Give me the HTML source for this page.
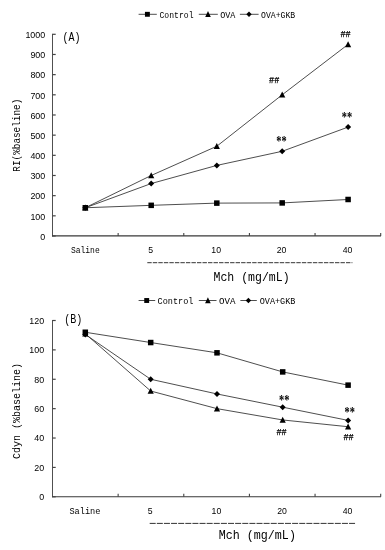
<!DOCTYPE html><html><head><meta charset="utf-8"><title>Figure</title><style>html,body{margin:0;padding:0;background:#fff}svg{display:block}text{fill:#000}</style></head><body>
<svg width="385" height="550" viewBox="0 0 385 550">
<rect width="385" height="550" fill="#fff"/>
<line x1="138.6" y1="14.3" x2="156.8" y2="14.3" stroke="#2e2e2e" stroke-width="0.85"/>
<rect x="144.95" y="11.85" width="4.9" height="4.9" fill="#000"/>
<text x="159.50" y="17.50" font-family='"Liberation Mono", "DejaVu Sans Mono", monospace' font-size="9" textLength="34.00" lengthAdjust="spacingAndGlyphs" >Control</text>
<line x1="198.8" y1="14.3" x2="217.8" y2="14.3" stroke="#2e2e2e" stroke-width="0.85"/>
<polygon points="208.00,11.10 210.80,17.10 205.20,17.10" fill="#000"/>
<text x="220.20" y="17.50" font-family='"Liberation Mono", "DejaVu Sans Mono", monospace' font-size="9" textLength="15.20" lengthAdjust="spacingAndGlyphs" >OVA</text>
<line x1="239.9" y1="14.3" x2="258.6" y2="14.3" stroke="#2e2e2e" stroke-width="0.85"/>
<polygon points="249.00,11.60 251.70,14.30 249.00,17.00 246.30,14.30" fill="#000"/>
<text x="261.00" y="17.50" font-family='"Liberation Mono", "DejaVu Sans Mono", monospace' font-size="9" textLength="34.20" lengthAdjust="spacingAndGlyphs" >OVA+GKB</text>
<line x1="52.5" y1="33.8" x2="52.5" y2="236.5" stroke="#505050" stroke-width="1"/>
<line x1="52.0" y1="235.9" x2="381.0" y2="235.9" stroke="#383838" stroke-width="1.15"/>
<line x1="52.5" y1="236.00" x2="55.7" y2="236.00" stroke="#444" stroke-width="1.2"/>
<text x="45.20" y="239.80" font-family='"Liberation Sans", "DejaVu Sans", sans-serif' font-size="8.9" text-anchor="end">0</text>
<line x1="52.5" y1="215.83" x2="55.7" y2="215.83" stroke="#444" stroke-width="1.2"/>
<text x="45.20" y="219.63" font-family='"Liberation Sans", "DejaVu Sans", sans-serif' font-size="8.9" text-anchor="end">100</text>
<line x1="52.5" y1="195.66" x2="55.7" y2="195.66" stroke="#444" stroke-width="1.2"/>
<text x="45.20" y="199.46" font-family='"Liberation Sans", "DejaVu Sans", sans-serif' font-size="8.9" text-anchor="end">200</text>
<line x1="52.5" y1="175.49" x2="55.7" y2="175.49" stroke="#444" stroke-width="1.2"/>
<text x="45.20" y="179.29" font-family='"Liberation Sans", "DejaVu Sans", sans-serif' font-size="8.9" text-anchor="end">300</text>
<line x1="52.5" y1="155.32" x2="55.7" y2="155.32" stroke="#444" stroke-width="1.2"/>
<text x="45.20" y="159.12" font-family='"Liberation Sans", "DejaVu Sans", sans-serif' font-size="8.9" text-anchor="end">400</text>
<line x1="52.5" y1="135.15" x2="55.7" y2="135.15" stroke="#444" stroke-width="1.2"/>
<text x="45.20" y="138.95" font-family='"Liberation Sans", "DejaVu Sans", sans-serif' font-size="8.9" text-anchor="end">500</text>
<line x1="52.5" y1="114.98" x2="55.7" y2="114.98" stroke="#444" stroke-width="1.2"/>
<text x="45.20" y="118.78" font-family='"Liberation Sans", "DejaVu Sans", sans-serif' font-size="8.9" text-anchor="end">600</text>
<line x1="52.5" y1="94.81" x2="55.7" y2="94.81" stroke="#444" stroke-width="1.2"/>
<text x="45.20" y="98.61" font-family='"Liberation Sans", "DejaVu Sans", sans-serif' font-size="8.9" text-anchor="end">700</text>
<line x1="52.5" y1="74.64" x2="55.7" y2="74.64" stroke="#444" stroke-width="1.2"/>
<text x="45.20" y="78.44" font-family='"Liberation Sans", "DejaVu Sans", sans-serif' font-size="8.9" text-anchor="end">800</text>
<line x1="52.5" y1="54.47" x2="55.7" y2="54.47" stroke="#444" stroke-width="1.2"/>
<text x="45.20" y="58.27" font-family='"Liberation Sans", "DejaVu Sans", sans-serif' font-size="8.9" text-anchor="end">900</text>
<line x1="52.5" y1="34.30" x2="55.7" y2="34.30" stroke="#444" stroke-width="1.2"/>
<text x="45.20" y="38.10" font-family='"Liberation Sans", "DejaVu Sans", sans-serif' font-size="8.9" text-anchor="end">1000</text>
<line x1="118.14" y1="236" x2="118.14" y2="233.0" stroke="#444" stroke-width="1.1"/>
<line x1="183.78" y1="236" x2="183.78" y2="233.0" stroke="#444" stroke-width="1.1"/>
<line x1="249.42" y1="236" x2="249.42" y2="233.0" stroke="#444" stroke-width="1.1"/>
<line x1="315.06" y1="236" x2="315.06" y2="233.0" stroke="#444" stroke-width="1.1"/>
<line x1="380.70" y1="236" x2="380.70" y2="233.0" stroke="#444" stroke-width="1.1"/>
<text x="70.90" y="253.20" font-family='"Liberation Mono", "DejaVu Sans Mono", monospace' font-size="9.5" textLength="28.80" lengthAdjust="spacingAndGlyphs" >Saline</text>
<text x="150.60" y="253.20" font-family='"Liberation Sans", "DejaVu Sans", sans-serif' font-size="8.7" text-anchor="middle">5</text>
<text x="216.20" y="253.20" font-family='"Liberation Sans", "DejaVu Sans", sans-serif' font-size="8.7" text-anchor="middle">10</text>
<text x="281.60" y="253.20" font-family='"Liberation Sans", "DejaVu Sans", sans-serif' font-size="8.7" text-anchor="middle">20</text>
<text x="347.50" y="253.20" font-family='"Liberation Sans", "DejaVu Sans", sans-serif' font-size="8.7" text-anchor="middle">40</text>
<line x1="147.3" y1="262.7" x2="352.4" y2="262.7" stroke="#333" stroke-width="1" stroke-dasharray="4.4 1.12"/>
<text x="213.50" y="281.00" font-family='"Liberation Mono", "DejaVu Sans Mono", monospace' font-size="13.5" textLength="76.10" lengthAdjust="spacingAndGlyphs" >Mch (mg/mL)</text>
<g transform="translate(19.5,135.2) rotate(-90)">
<text x="-36.53" y="0.00" font-family='"Liberation Mono", "DejaVu Sans Mono", monospace' font-size="10" textLength="73.06" lengthAdjust="spacingAndGlyphs" >RI(%baseline)</text>
</g>
<text x="62.60" y="41.30" font-family='"Liberation Mono", "DejaVu Sans Mono", monospace' font-size="12" textLength="18.00" lengthAdjust="spacingAndGlyphs" >(A)</text>
<polyline fill="none" stroke="#2e2e2e" stroke-width="0.85" points="85.30,207.76 151.20,205.34 216.80,203.12 282.20,202.92 348.10,199.49"/>
<polyline fill="none" stroke="#2e2e2e" stroke-width="0.85" points="85.30,207.76 151.20,175.49 216.80,146.24 282.20,94.81 348.10,44.38"/>
<polyline fill="none" stroke="#2e2e2e" stroke-width="0.85" points="85.30,207.76 151.20,183.56 216.80,165.41 282.20,151.29 348.10,127.08"/>
<rect x="82.55" y="205.01" width="5.5" height="5.5" fill="#000"/>
<rect x="148.45" y="202.59" width="5.5" height="5.5" fill="#000"/>
<rect x="214.05" y="200.37" width="5.5" height="5.5" fill="#000"/>
<rect x="279.45" y="200.17" width="5.5" height="5.5" fill="#000"/>
<rect x="345.35" y="196.74" width="5.5" height="5.5" fill="#000"/>
<polygon points="85.30,204.56 88.40,210.56 82.20,210.56" fill="#000"/>
<polygon points="151.20,172.29 154.30,178.29 148.10,178.29" fill="#000"/>
<polygon points="216.80,143.04 219.90,149.04 213.70,149.04" fill="#000"/>
<polygon points="282.20,91.61 285.30,97.61 279.10,97.61" fill="#000"/>
<polygon points="348.10,41.18 351.20,47.18 345.00,47.18" fill="#000"/>
<polygon points="85.30,204.76 88.30,207.76 85.30,210.76 82.30,207.76" fill="#000"/>
<polygon points="151.20,180.56 154.20,183.56 151.20,186.56 148.20,183.56" fill="#000"/>
<polygon points="216.80,162.41 219.80,165.41 216.80,168.41 213.80,165.41" fill="#000"/>
<polygon points="282.20,148.29 285.20,151.29 282.20,154.29 279.20,151.29" fill="#000"/>
<polygon points="348.10,124.08 351.10,127.08 348.10,130.08 345.10,127.08" fill="#000"/>
<text x="269.10" y="83.40" font-family='"Liberation Mono", "DejaVu Sans Mono", monospace' font-size="8.8" textLength="10.2" lengthAdjust="spacingAndGlyphs" stroke="#000" stroke-width="0.25">##</text>
<text x="340.40" y="37.00" font-family='"Liberation Mono", "DejaVu Sans Mono", monospace' font-size="8.8" textLength="10.2" lengthAdjust="spacingAndGlyphs" stroke="#000" stroke-width="0.25">##</text>
<text x="276.30" y="145.80" font-family='"Liberation Serif", serif' font-weight="bold" font-size="14" textLength="10.4" lengthAdjust="spacingAndGlyphs">**</text>
<text x="341.80" y="121.80" font-family='"Liberation Serif", serif' font-weight="bold" font-size="14" textLength="10.4" lengthAdjust="spacingAndGlyphs">**</text>
<line x1="138.6" y1="300.5" x2="155.2" y2="300.5" stroke="#2e2e2e" stroke-width="0.85"/>
<rect x="144.25" y="298.05" width="4.9" height="4.9" fill="#000"/>
<text x="157.60" y="303.70" font-family='"Liberation Mono", "DejaVu Sans Mono", monospace' font-size="9" textLength="35.90" lengthAdjust="spacingAndGlyphs" >Control</text>
<line x1="198.8" y1="300.5" x2="216.5" y2="300.5" stroke="#2e2e2e" stroke-width="0.85"/>
<polygon points="207.90,297.30 210.70,303.30 205.10,303.30" fill="#000"/>
<text x="218.90" y="303.70" font-family='"Liberation Mono", "DejaVu Sans Mono", monospace' font-size="9" textLength="16.50" lengthAdjust="spacingAndGlyphs" >OVA</text>
<line x1="240.4" y1="300.5" x2="256.8" y2="300.5" stroke="#2e2e2e" stroke-width="0.85"/>
<polygon points="248.40,297.80 251.10,300.50 248.40,303.20 245.70,300.50" fill="#000"/>
<text x="259.70" y="303.70" font-family='"Liberation Mono", "DejaVu Sans Mono", monospace' font-size="9" textLength="35.70" lengthAdjust="spacingAndGlyphs" >OVA+GKB</text>
<line x1="52.5" y1="320.0" x2="52.5" y2="497.3" stroke="#505050" stroke-width="1"/>
<line x1="52.0" y1="496.7" x2="381.0" y2="496.7" stroke="#383838" stroke-width="1.15"/>
<line x1="52.5" y1="496.80" x2="55.7" y2="496.80" stroke="#444" stroke-width="1.2"/>
<text x="44.10" y="500.10" font-family='"Liberation Sans", "DejaVu Sans", sans-serif' font-size="8.9" text-anchor="end">0</text>
<line x1="52.5" y1="467.42" x2="55.7" y2="467.42" stroke="#444" stroke-width="1.2"/>
<text x="44.10" y="470.72" font-family='"Liberation Sans", "DejaVu Sans", sans-serif' font-size="8.9" text-anchor="end">20</text>
<line x1="52.5" y1="438.03" x2="55.7" y2="438.03" stroke="#444" stroke-width="1.2"/>
<text x="44.10" y="441.33" font-family='"Liberation Sans", "DejaVu Sans", sans-serif' font-size="8.9" text-anchor="end">40</text>
<line x1="52.5" y1="408.65" x2="55.7" y2="408.65" stroke="#444" stroke-width="1.2"/>
<text x="44.10" y="411.95" font-family='"Liberation Sans", "DejaVu Sans", sans-serif' font-size="8.9" text-anchor="end">60</text>
<line x1="52.5" y1="379.27" x2="55.7" y2="379.27" stroke="#444" stroke-width="1.2"/>
<text x="44.10" y="382.57" font-family='"Liberation Sans", "DejaVu Sans", sans-serif' font-size="8.9" text-anchor="end">80</text>
<line x1="52.5" y1="349.88" x2="55.7" y2="349.88" stroke="#444" stroke-width="1.2"/>
<text x="44.10" y="353.18" font-family='"Liberation Sans", "DejaVu Sans", sans-serif' font-size="8.9" text-anchor="end">100</text>
<line x1="52.5" y1="320.50" x2="55.7" y2="320.50" stroke="#444" stroke-width="1.2"/>
<text x="44.10" y="323.80" font-family='"Liberation Sans", "DejaVu Sans", sans-serif' font-size="8.9" text-anchor="end">120</text>
<line x1="118.14" y1="496.8" x2="118.14" y2="493.8" stroke="#444" stroke-width="1.1"/>
<line x1="183.78" y1="496.8" x2="183.78" y2="493.8" stroke="#444" stroke-width="1.1"/>
<line x1="249.42" y1="496.8" x2="249.42" y2="493.8" stroke="#444" stroke-width="1.1"/>
<line x1="315.06" y1="496.8" x2="315.06" y2="493.8" stroke="#444" stroke-width="1.1"/>
<line x1="380.70" y1="496.8" x2="380.70" y2="493.8" stroke="#444" stroke-width="1.1"/>
<text x="69.40" y="514.00" font-family='"Liberation Mono", "DejaVu Sans Mono", monospace' font-size="9.5" textLength="31.00" lengthAdjust="spacingAndGlyphs" >Saline</text>
<text x="150.10" y="514.00" font-family='"Liberation Sans", "DejaVu Sans", sans-serif' font-size="8.7" text-anchor="middle">5</text>
<text x="216.40" y="514.00" font-family='"Liberation Sans", "DejaVu Sans", sans-serif' font-size="8.7" text-anchor="middle">10</text>
<text x="282.10" y="514.00" font-family='"Liberation Sans", "DejaVu Sans", sans-serif' font-size="8.7" text-anchor="middle">20</text>
<text x="347.50" y="514.00" font-family='"Liberation Sans", "DejaVu Sans", sans-serif' font-size="8.7" text-anchor="middle">40</text>
<line x1="149.7" y1="523.4" x2="355.2" y2="523.4" stroke="#333" stroke-width="1" stroke-dasharray="6 1.12"/>
<text x="218.80" y="538.50" font-family='"Liberation Mono", "DejaVu Sans Mono", monospace' font-size="13.5" textLength="77.10" lengthAdjust="spacingAndGlyphs" >Mch (mg/mL)</text>
<g transform="translate(19.5,411) rotate(-90)">
<text x="-48.00" y="0.00" font-family='"Liberation Mono", "DejaVu Sans Mono", monospace' font-size="10.6" textLength="96.00" lengthAdjust="spacingAndGlyphs" >Cdyn (%baseline)</text>
</g>
<text x="64.20" y="322.90" font-family='"Liberation Mono", "DejaVu Sans Mono", monospace' font-size="12" textLength="18.00" lengthAdjust="spacingAndGlyphs" >(B)</text>
<polyline fill="none" stroke="#2e2e2e" stroke-width="0.85" points="85.30,332.25 150.70,342.54 217.00,352.82 282.70,371.92 348.10,385.14"/>
<polyline fill="none" stroke="#2e2e2e" stroke-width="0.85" points="85.30,333.72 150.70,391.02 217.00,408.65 282.70,419.96 348.10,426.72"/>
<polyline fill="none" stroke="#2e2e2e" stroke-width="0.85" points="85.30,334.46 150.70,379.27 217.00,393.96 282.70,407.18 348.10,420.40"/>
<rect x="82.55" y="329.50" width="5.5" height="5.5" fill="#000"/>
<rect x="147.95" y="339.79" width="5.5" height="5.5" fill="#000"/>
<rect x="214.25" y="350.07" width="5.5" height="5.5" fill="#000"/>
<rect x="279.95" y="369.17" width="5.5" height="5.5" fill="#000"/>
<rect x="345.35" y="382.39" width="5.5" height="5.5" fill="#000"/>
<polygon points="85.30,330.52 88.40,336.52 82.20,336.52" fill="#000"/>
<polygon points="150.70,387.82 153.80,393.82 147.60,393.82" fill="#000"/>
<polygon points="217.00,405.45 220.10,411.45 213.90,411.45" fill="#000"/>
<polygon points="282.70,416.76 285.80,422.76 279.60,422.76" fill="#000"/>
<polygon points="348.10,423.52 351.20,429.52 345.00,429.52" fill="#000"/>
<polygon points="85.30,331.46 88.30,334.46 85.30,337.46 82.30,334.46" fill="#000"/>
<polygon points="150.70,376.27 153.70,379.27 150.70,382.27 147.70,379.27" fill="#000"/>
<polygon points="217.00,390.96 220.00,393.96 217.00,396.96 214.00,393.96" fill="#000"/>
<polygon points="282.70,404.18 285.70,407.18 282.70,410.18 279.70,407.18" fill="#000"/>
<polygon points="348.10,417.40 351.10,420.40 348.10,423.40 345.10,420.40" fill="#000"/>
<text x="279.10" y="405.20" font-family='"Liberation Serif", serif' font-weight="bold" font-size="14" textLength="10.4" lengthAdjust="spacingAndGlyphs">**</text>
<text x="344.60" y="416.50" font-family='"Liberation Serif", serif' font-weight="bold" font-size="14" textLength="10.4" lengthAdjust="spacingAndGlyphs">**</text>
<text x="276.40" y="435.10" font-family='"Liberation Mono", "DejaVu Sans Mono", monospace' font-size="8.8" textLength="10.2" lengthAdjust="spacingAndGlyphs" stroke="#000" stroke-width="0.25">##</text>
<text x="343.50" y="440.00" font-family='"Liberation Mono", "DejaVu Sans Mono", monospace' font-size="8.8" textLength="10.2" lengthAdjust="spacingAndGlyphs" stroke="#000" stroke-width="0.25">##</text>
</svg></body></html>
